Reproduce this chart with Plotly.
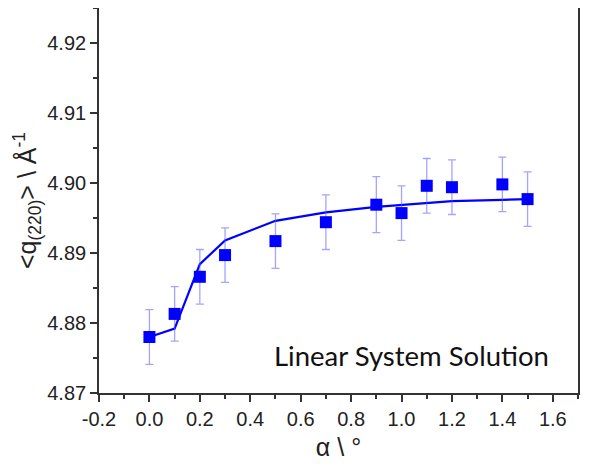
import plotly.graph_objects as go

alpha = [0.0, 0.1, 0.2, 0.3, 0.5, 0.7, 0.9, 1.0, 1.1, 1.2, 1.4, 1.5]
q_meas = [4.8780, 4.8813, 4.8866, 4.8897, 4.8917, 4.8944, 4.8969, 4.8957, 4.8996, 4.8994, 4.8998, 4.8977]
q_err = [0.0039, 0.0039, 0.0039, 0.0039, 0.0039, 0.0039, 0.0040, 0.0039, 0.0039, 0.0039, 0.0039, 0.0039]
q_fit = [4.8780, 4.8792, 4.8884, 4.8918, 4.8946, 4.8958, 4.8966, 4.8969, 4.8972, 4.8974, 4.8976, 4.8977]

x_ticks = [-0.2, 0.0, 0.2, 0.4, 0.6, 0.8, 1.0, 1.2, 1.4, 1.6]
x_ticktext = ["-0.2", "0.0", "0.2", "0.4", "0.6", "0.8", "1.0", "1.2", "1.4", "1.6"]
y_ticks = [4.87, 4.88, 4.89, 4.90, 4.91, 4.92]
y_ticktext = ["4.87", "4.88", "4.89", "4.90", "4.91", "4.92"]

fig = go.Figure()
fig.add_trace(go.Scatter(
    x=alpha, y=q_fit, mode="lines",
    line=dict(color="#0000FF", width=2.2),
    showlegend=False,
))
fig.add_trace(go.Scatter(
    x=alpha, y=q_meas, mode="markers",
    marker=dict(symbol="square", size=12, color="#0000FF", line=dict(width=0)),
    error_y=dict(type="data", array=q_err, visible=True, color="rgba(90,90,255,0.55)", thickness=1.3, width=4),
    showlegend=False,
))

axis_common = dict(
    showline=True, linecolor="#333333", linewidth=1.6, mirror=True,
    ticks="outside", ticklen=7, tickwidth=1.5, tickcolor="#333333",
    showgrid=False, zeroline=False,
    tickfont=dict(family="Liberation Sans", size=20, color="#222222"),
)

fig.update_xaxes(
    range=[-0.2, 1.7], tickvals=x_ticks, ticktext=x_ticktext,
    minor=dict(ticks="outside", ticklen=4, tickwidth=1.5, tickcolor="#333333", dtick=0.1, tick0=-0.2),
    title=dict(text="α \\ °", font=dict(family="Liberation Sans", size=25, color="#222222"), standoff=10),
    **axis_common,
)
fig.update_yaxes(
    range=[4.87, 4.925], tickvals=y_ticks, ticktext=y_ticktext,
    minor=dict(ticks="outside", ticklen=4, tickwidth=1.5, tickcolor="#333333", dtick=0.005, tick0=4.87),
    title=dict(text="&lt;q<sub>(220)</sub>&gt; \\ Å<sup>-1</sup>", font=dict(family="Liberation Sans", size=25, color="#222222"), standoff=4),
    **axis_common,
)

fig.add_annotation(
    x=0.943, y=0.05, xref="paper", yref="paper", xanchor="right", yanchor="bottom",
    text="Linear System Solution", showarrow=False,
    font=dict(family="Lato", size=27.5, color="#111111"),
)

fig.update_layout(
    width=586, height=462,
    margin=dict(l=91, r=16, t=0, b=77, autoexpand=False),
    paper_bgcolor="white", plot_bgcolor="white",
)

fig.write_html("out.html")
